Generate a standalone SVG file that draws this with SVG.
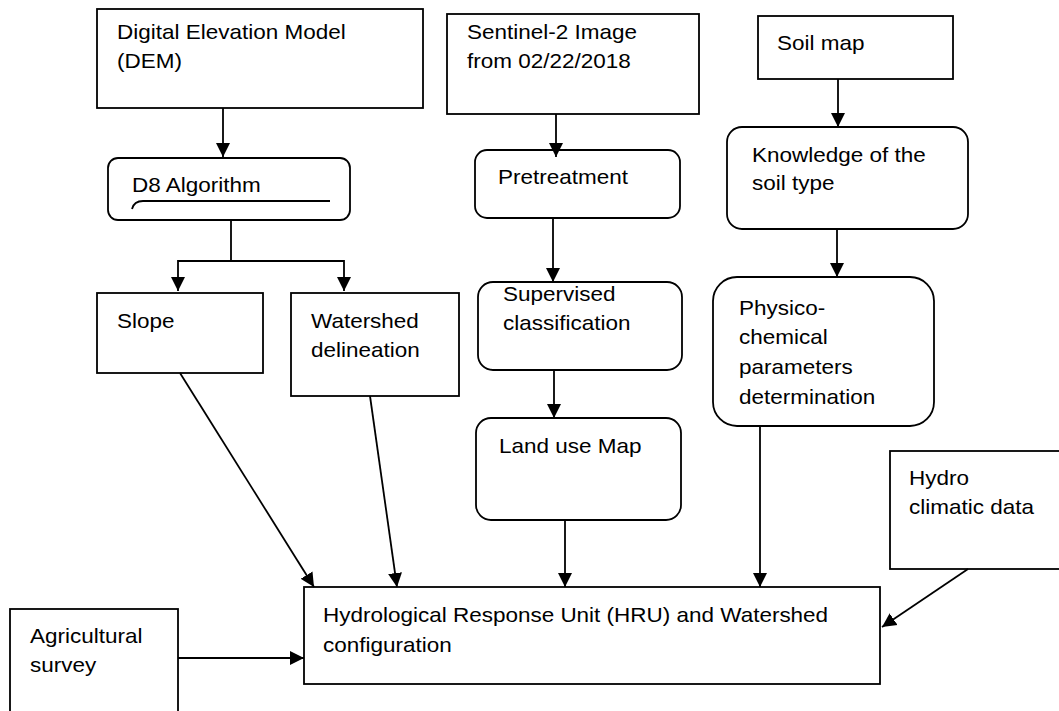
<svg xmlns="http://www.w3.org/2000/svg" width="1059" height="711" viewBox="0 0 1059 711">
<style>
.b{fill:#fff;stroke:#000;stroke-width:1.8}
.t{font-family:"Liberation Sans",Arial,sans-serif;font-size:20px;fill:#000}
.c{fill:none;stroke:#000;stroke-width:1.8}
</style>
<defs>
<marker id="ah" markerWidth="16" markerHeight="16" refX="14" refY="8" orient="auto" markerUnits="userSpaceOnUse"><path d="M0,1 L14,8 L0,15 z" fill="#000"/></marker>
</defs>
<rect width="1059" height="711" fill="#fff"/>
<g id="dem"><rect class="b" x="97" y="9" width="326" height="99"/>
<text class="t" transform="matrix(1.125 0 0 1 117 39)"><tspan x="0" y="0">Digital Elevation Model</tspan><tspan x="0" y="29">(DEM)</tspan></text></g>
<g id="d8"><rect class="b" x="108" y="158" width="242" height="62" rx="10"/>
<text class="t" transform="matrix(1.125 0 0 1 132 192)">D8 Algorithm</text>
<path class="c" d="M132,209 Q134,201 143,201 L330,201"/></g>
<g id="slope"><rect class="b" x="97" y="293" width="166" height="80"/>
<text class="t" transform="matrix(1.125 0 0 1 117 328)">Slope</text></g>
<g id="watershed"><rect class="b" x="291" y="293" width="168" height="103"/>
<text class="t" transform="matrix(1.125 0 0 1 311 328)"><tspan x="0" y="0">Watershed</tspan><tspan x="0" y="29">delineation</tspan></text></g>
<g id="sentinel"><rect class="b" x="447" y="14" width="252" height="100"/>
<text class="t" transform="matrix(1.125 0 0 1 467 39)"><tspan x="0" y="0">Sentinel-2 Image</tspan><tspan x="0" y="29">from 02/22/2018</tspan></text></g>
<g id="pretreatment"><rect class="b" x="475" y="150" width="205" height="68" rx="12"/>
<text class="t" transform="matrix(1.125 0 0 1 498 184)">Pretreatment</text></g>
<g id="supervised"><rect class="b" x="478" y="282" width="204" height="88" rx="15"/>
<text class="t" transform="matrix(1.125 0 0 1 503 301)"><tspan x="0" y="0">Supervised</tspan><tspan x="0" y="29">classification</tspan></text></g>
<g id="landuse"><rect class="b" x="476" y="418" width="205" height="102" rx="15"/>
<text class="t" transform="matrix(1.125 0 0 1 499 453)">Land use Map</text></g>
<g id="soilmap"><rect class="b" x="758" y="16" width="195" height="63"/>
<text class="t" transform="matrix(1.125 0 0 1 777 50)">Soil map</text></g>
<g id="knowledge"><rect class="b" x="727" y="127" width="241" height="102" rx="15"/>
<text class="t" transform="matrix(1.125 0 0 1 752 162)"><tspan x="0" y="0">Knowledge of the</tspan><tspan x="0" y="28">soil type</tspan></text></g>
<g id="physico"><rect class="b" x="713" y="277" width="221" height="149" rx="24"/>
<text class="t" transform="matrix(1.125 0 0 1 739 315)"><tspan x="0" y="0">Physico-</tspan><tspan x="0" y="29">chemical</tspan><tspan x="0" y="59">parameters</tspan><tspan x="0" y="89">determination</tspan></text></g>
<g id="hydro"><rect class="b" x="890" y="451" width="175" height="118"/>
<text class="t" transform="matrix(1.125 0 0 1 909 485)"><tspan x="0" y="0">Hydro</tspan><tspan x="0" y="29">climatic data</tspan></text></g>
<g id="agri"><rect class="b" x="10" y="609" width="168" height="110"/>
<text class="t" transform="matrix(1.125 0 0 1 30 643)"><tspan x="0" y="0">Agricultural</tspan><tspan x="0" y="29">survey</tspan></text></g>
<g id="hru"><rect class="b" x="304" y="587" width="576" height="97"/>
<text class="t" transform="matrix(1.125 0 0 1 323 622)"><tspan x="0" y="0">Hydrological Response Unit (HRU) and Watershed</tspan><tspan x="0" y="30">configuration</tspan></text></g>
<g id="connectors">
<line class="c" x1="223" y1="108" x2="223" y2="157" marker-end="url(#ah)"/>
<polyline class="c" points="231,220 231,261 178,261 178,291" marker-end="url(#ah)"/>
<polyline class="c" points="231,261 344,261 344,291" marker-end="url(#ah)"/>
<line class="c" x1="180" y1="373" x2="314" y2="587" marker-end="url(#ah)"/>
<line class="c" x1="370" y1="396" x2="397" y2="587" marker-end="url(#ah)"/>
<line class="c" x1="556" y1="114" x2="556" y2="157" marker-end="url(#ah)"/>
<line class="c" x1="553" y1="218" x2="553" y2="282" marker-end="url(#ah)"/>
<line class="c" x1="554" y1="370" x2="554" y2="418" marker-end="url(#ah)"/>
<line class="c" x1="565" y1="520" x2="565" y2="587" marker-end="url(#ah)"/>
<line class="c" x1="838" y1="79" x2="838" y2="127" marker-end="url(#ah)"/>
<line class="c" x1="837" y1="229" x2="837" y2="277" marker-end="url(#ah)"/>
<line class="c" x1="760" y1="426" x2="760" y2="587" marker-end="url(#ah)"/>
<line class="c" x1="968" y1="569" x2="882" y2="627" marker-end="url(#ah)"/>
<line class="c" x1="178" y1="658" x2="304" y2="658" marker-end="url(#ah)"/>
</g>
</svg>
